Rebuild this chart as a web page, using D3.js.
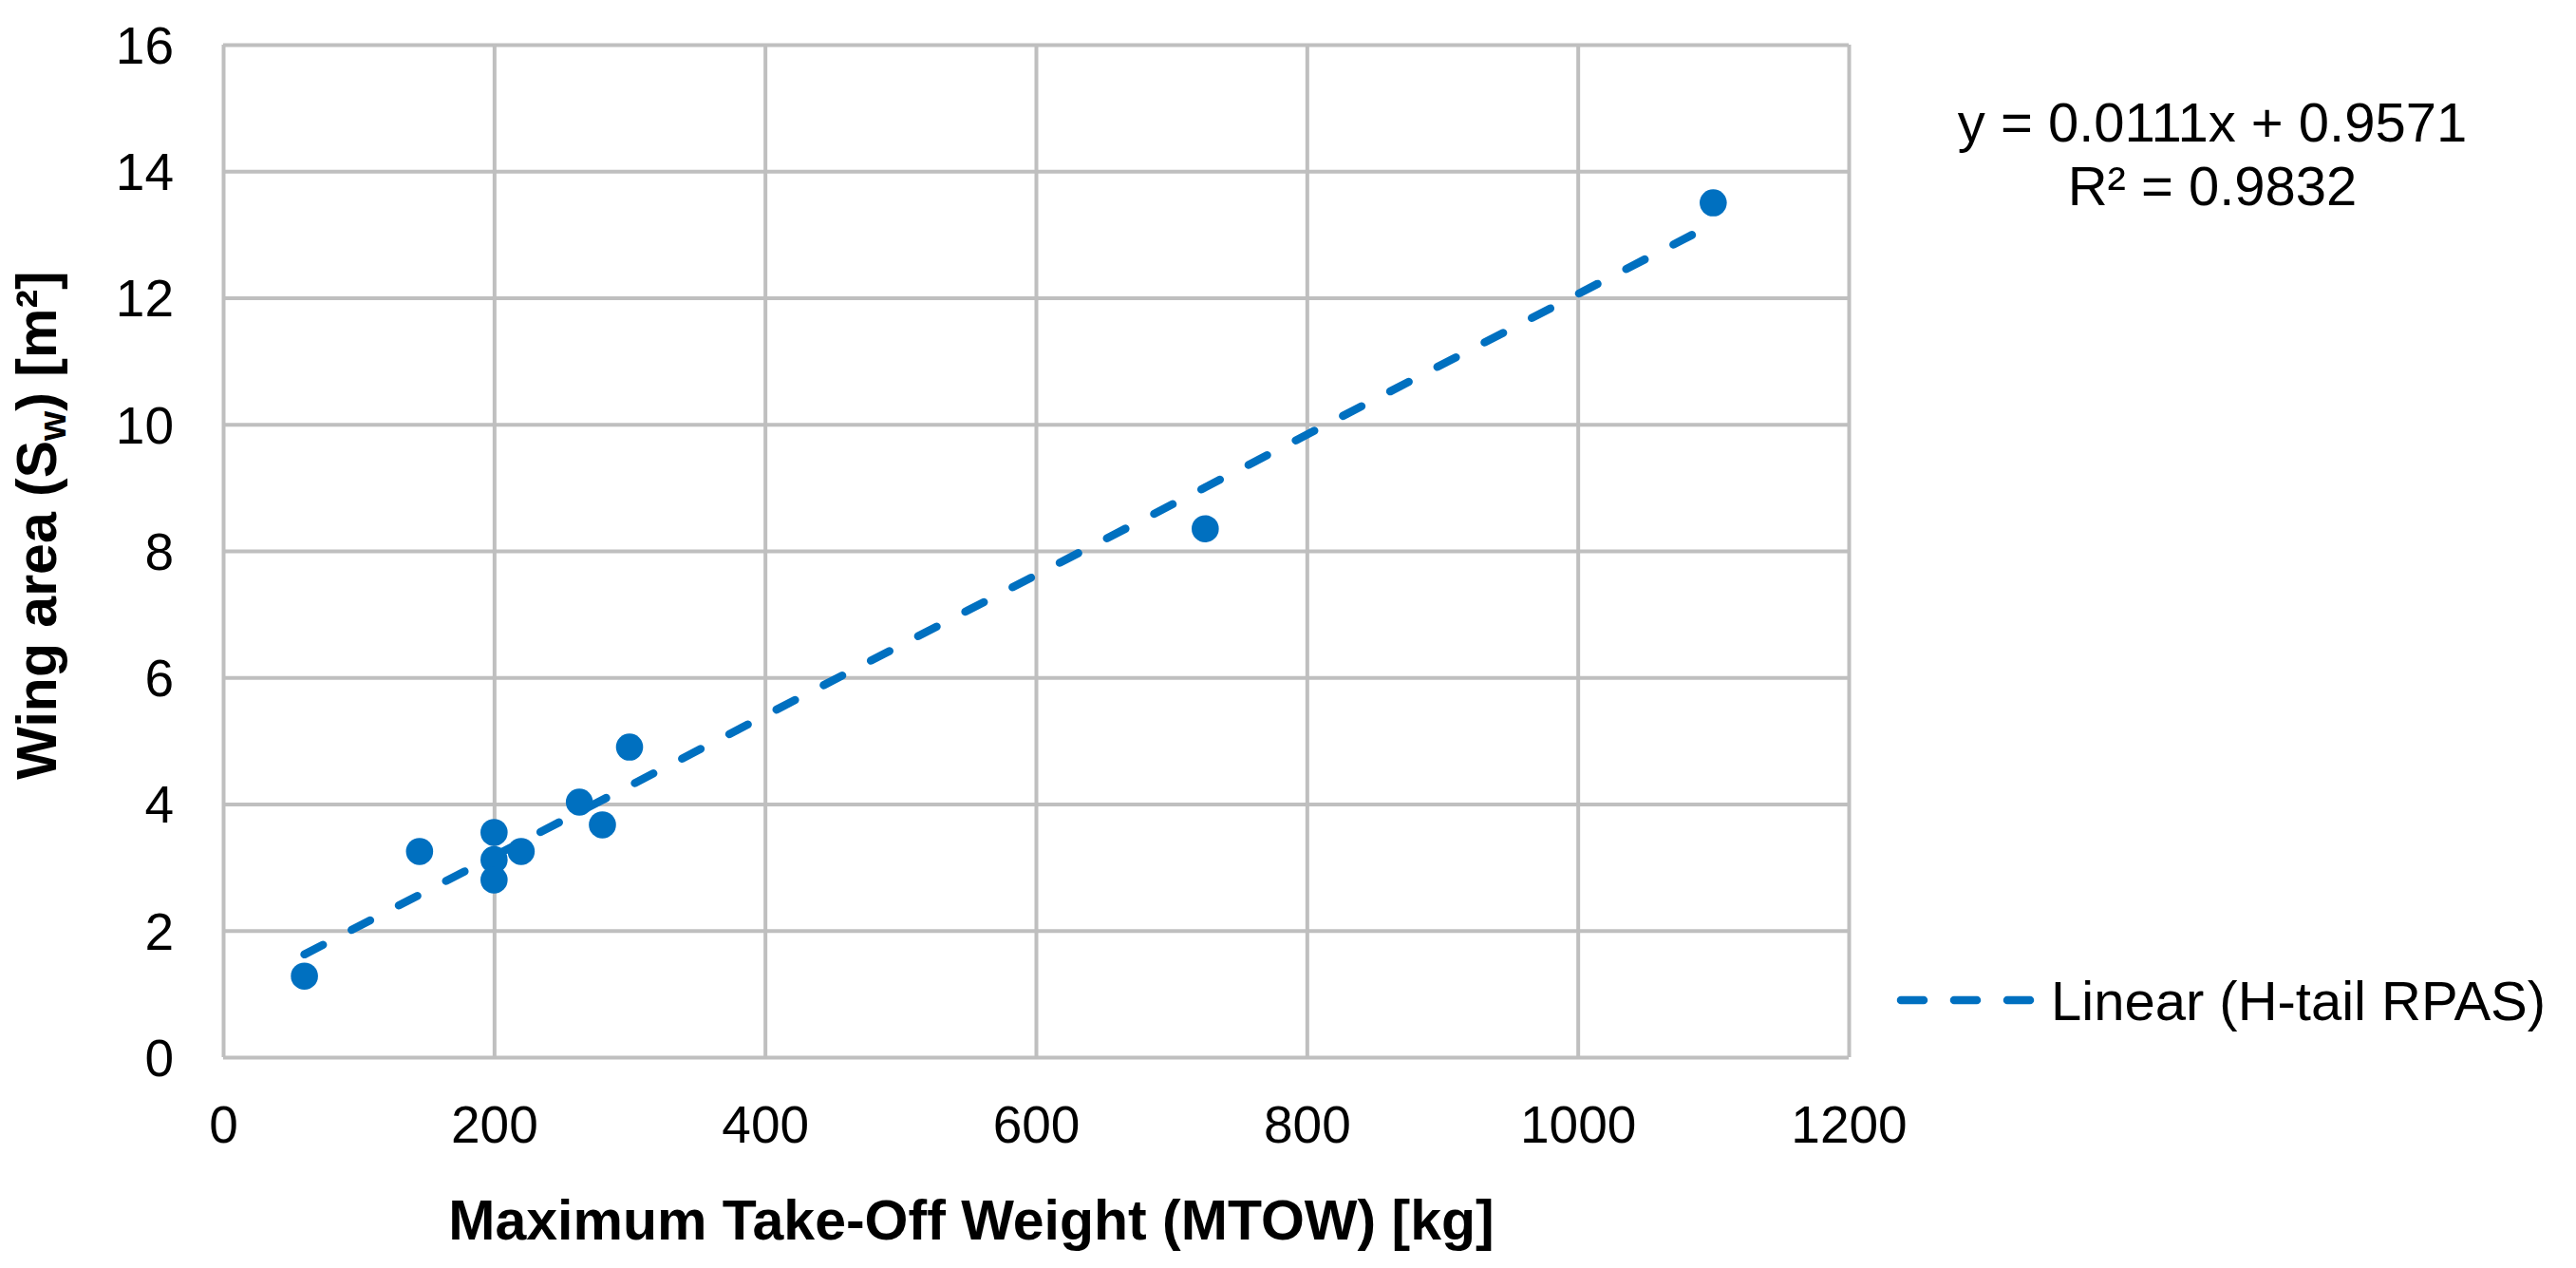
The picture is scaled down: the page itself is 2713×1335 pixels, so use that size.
<!DOCTYPE html>
<html>
<head>
<meta charset="utf-8">
<script src="https://cdn.jsdelivr.net/npm/d3@7"></script>
<style>
  body { margin: 0; background: #fff; }
  svg { display: block; font-family: "Liberation Sans", Arial, sans-serif; }
</style>
</head>
<body>
<svg id="chart"></svg>
<script>
// data
const mtow = [60, 145, 200, 200, 200, 220, 263, 280, 300, 725, 1100];
const wingArea = [1.28, 3.25, 3.55, 3.12, 2.8, 3.25, 4.03, 3.67, 4.9, 8.35, 13.5];
const xTicks = [0, 200, 400, 600, 800, 1000, 1200];
const yTicks = [0, 2, 4, 6, 8, 10, 12, 14, 16];
const trendSlope = 0.0111, trendIntercept = 0.9571;
const eqLines = ["y = 0.0111x + 0.9571", "R\u00b2 = 0.9832"];
const legendLabel = "Linear (H-tail RPAS)";

const width = 2713, height = 1335;
const margin = { left: 235, top: 47, right: 766, bottom: 222 };
const plotW = width - margin.left - margin.right;
const plotH = height - margin.top - margin.bottom;
const blue = "#0070c0", grid = "#bfbfbf";

const svg = d3.select("#chart")
    .attr("width", width)
    .attr("height", height);

const g = svg.append("g")
    .attr("transform", `translate(${margin.left},${margin.top})`);

const x = d3.scaleLinear().domain([0, 1200]).range([0, plotW]);
const y = d3.scaleLinear().domain([0, 16]).range([plotH, 0]);

// y axis + horizontal gridlines
const yAxis = g.append("g")
    .call(d3.axisLeft(y).tickValues(yTicks).tickFormat(d3.format("d"))
        .tickSize(-plotW).tickPadding(52));
yAxis.select(".domain").remove();
yAxis.selectAll(".tick line").attr("stroke", grid).attr("stroke-width", 4);
yAxis.selectAll(".tick text")
    .attr("font-size", 55)
    .attr("fill", "#000")
    .attr("dy", "0.35em")
    .style("font-family", "Liberation Sans, Arial, sans-serif");

// x axis + vertical gridlines
const xAxis = g.append("g")
    .attr("transform", `translate(0,${plotH})`)
    .call(d3.axisBottom(x).tickValues(xTicks).tickFormat(d3.format("d"))
        .tickSize(-plotH).tickPadding(90));
xAxis.select(".domain").remove();
xAxis.selectAll(".tick line").attr("stroke", grid).attr("stroke-width", 4);
xAxis.selectAll(".tick text")
    .attr("font-size", 55)
    .attr("fill", "#000")
    .attr("dy", 0)
    .style("font-family", "Liberation Sans, Arial, sans-serif");

// trendline from the fitted equation
const xExt = d3.extent(mtow);
const trend = xExt.map(v => [v, trendSlope * v + trendIntercept]);
g.append("path")
    .datum(trend)
    .attr("d", d3.line().x(d => x(d[0])).y(d => y(d[1])))
    .attr("fill", "none")
    .attr("stroke", blue)
    .attr("stroke-width", 8.5)
    .attr("stroke-linecap", "round")
    .attr("stroke-dasharray", "22 34");

// points
g.selectAll("circle.pt")
    .data(mtow.map((v, i) => [v, wingArea[i]]))
    .enter()
    .append("circle")
    .attr("class", "pt")
    .attr("cx", d => x(d[0]))
    .attr("cy", d => y(d[1]))
    .attr("r", 14.3)
    .attr("fill", blue);

// axis titles
svg.append("text")
    .attr("x", 1023)
    .attr("y", 1305)
    .attr("text-anchor", "middle")
    .attr("font-size", 59)
    .attr("font-weight", "bold")
    .text("Maximum Take-Off Weight (MTOW) [kg]");

const yt = svg.append("text")
    .attr("transform", "translate(59,553) rotate(-90)")
    .attr("text-anchor", "middle")
    .attr("font-size", 59)
    .attr("font-weight", "bold");
yt.append("tspan").text("Wing area (S");
yt.append("tspan").attr("font-size", 40).attr("dy", 10).text("w");
yt.append("tspan").attr("dy", -10).text(") [m\u00b2]");

// regression equation
svg.append("g").selectAll("text")
    .data(eqLines)
    .enter()
    .append("text")
    .attr("x", 2330)
    .attr("y", (d, i) => 149 + i * 67)
    .attr("text-anchor", "middle")
    .attr("font-size", 58)
    .text(d => d);

// legend
const legend = svg.append("g").attr("transform", "translate(1998,1053)");
legend.append("line")
    .attr("x1", 4).attr("x2", 142)
    .attr("stroke", blue)
    .attr("stroke-width", 8.5)
    .attr("stroke-linecap", "round")
    .attr("stroke-dasharray", "24 32");
legend.append("text")
    .attr("x", 162)
    .attr("y", 21)
    .attr("font-size", 58)
    .text(legendLabel);
</script>
</body>
</html>
